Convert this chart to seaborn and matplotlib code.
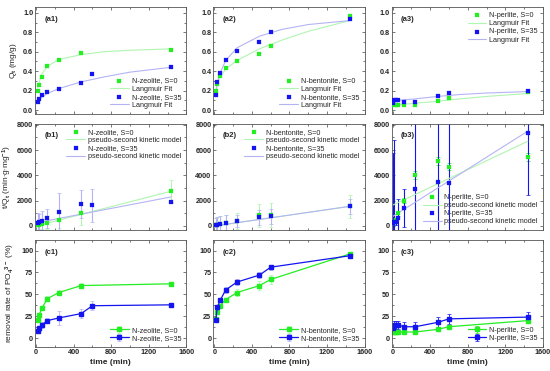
import numpy as np
import pandas as pd
import matplotlib
matplotlib.use("Agg")
import matplotlib.pyplot as plt
from matplotlib.ticker import MultipleLocator
import seaborn as sns

# time points (min)
t_zeo0 = [15, 30, 60, 120, 240, 480, 1440]
t_main = [15, 30, 60, 120, 240, 480, 600, 1440]
t_per = [5, 15, 30, 60, 120, 240, 480, 600, 1440]

# Qt (mg/g)
qa_zeo0 = [0.20, 0.26, 0.34, 0.45, 0.52, 0.59, 0.62]
qa_zeo35 = [0.08, 0.11, 0.15, 0.19, 0.22, 0.28, 0.37, 0.44]
qa_ben0 = [0.20, 0.27, 0.35, 0.43, 0.50, 0.58, 0.66, 0.97]
qa_ben35 = [0.15, 0.29, 0.38, 0.52, 0.61, 0.70, 0.80, 0.94]
qa_per0 = [0.06, 0.05, 0.05, 0.05, 0.05, 0.05, 0.09, 0.12, 0.19]
qa_per35 = [0.07, 0.10, 0.10, 0.10, 0.08, 0.08, 0.14, 0.18, 0.20]

# Langmuir fit curves
fit_t = [15, 30, 60, 120, 240, 480, 720, 1000, 1440]
fa_zeo0 = [0.21, 0.28, 0.37, 0.45, 0.52, 0.57, 0.60, 0.615, 0.63]
fa_zeo35 = [0.08, 0.10, 0.13, 0.17, 0.22, 0.29, 0.34, 0.39, 0.44]
fa_ben0 = [0.20, 0.27, 0.34, 0.42, 0.51, 0.63, 0.72, 0.81, 0.92]
fa_ben35 = [0.17, 0.27, 0.38, 0.51, 0.64, 0.76, 0.83, 0.88, 0.92]
fa_per0 = [0.05, 0.05, 0.055, 0.06, 0.07, 0.09, 0.115, 0.14, 0.17]
fa_per35 = [0.09, 0.095, 0.10, 0.105, 0.115, 0.14, 0.16, 0.175, 0.19]

# t/Qt
qb_zeo0 = [50, 100, 150, 250, 450, 1000, 2750]
eb_zeo0 = [300, 350, 400, 500, 600, 900, 900]
qb_zeo35 = [200, 300, 400, 600, 1100, 1750, 1650, 1900]
eb_zeo35 = [800, 650, 750, 750, 1500, 1100, 1300, 0]
qb_ben0 = [60, 80, 150, 250, 400, 850, 900, 1550]
eb_ben0 = [600, 650, 650, 600, 600, 900, 950, 900]
qb_ben35 = [50, 100, 180, 250, 400, 700, 750, 1550]
eb_ben35 = [600, 600, 600, 600, 500, 600, 600, 600]
qb_per0 = [200, 300, 500, 1000, 2000, 4050, 5150, 4700, 5450]
eb_per0 = [100, 100, 150, 200, 200, 300, 300, 300, 300]
qb_per35 = [250, 300, 350, 600, 1450, 2900, 3450, 3400, 7350]
eb_per35 = [5550, 6500, 300, 1500, 1500, 6000, 6000, 6000, 4900]

# pseudo-second kinetic model lines
fit_tb = [0, 1440]
fb_zeo0 = [0, 2750]
fb_zeo35 = [250, 2300]
fb_ben0 = [0, 1550]
fb_ben35 = [0, 1550]
fb_per0 = [1650, 6700]
fb_per35 = [750, 7500]

# removal rate (%)
qc_zeo0 = [21, 26, 34, 45, 52, 60, 62]
ec_zeo0 = [2, 2, 2, 3, 3, 3, 1]
qc_zeo35 = [8, 11, 15, 20, 23, 28, 37, 38]
ec_zeo35 = [2, 3, 3, 3, 8, 5, 5, 1]
qc_ben0 = [22, 30, 37, 44, 52, 60, 67, 96]
ec_ben0 = [2, 3, 2, 2, 4, 5, 5, 2]
qc_ben35 = [21, 35, 43, 55, 64, 72, 81, 94]
ec_ben35 = [2, 2, 2, 3, 3, 3, 3, 3]
qc_per0 = [7, 7, 7, 7, 7, 7, 10, 13, 20]
ec_per0 = [1, 1, 1, 1, 1, 1, 2, 2, 2]
qc_per35 = [11, 15, 15, 15, 13, 13, 18, 22, 24]
ec_per35 = [4, 5, 5, 5, 5, 5, 6, 6, 6]

GREEN = "#22ee22"
BLUE = "#1414f0"
LGREEN = "#b0f5b0"
LBLUE = "#b4b4f5"

sns.set_style("ticks")
plt.rcParams["font.family"] = ["Liberation Sans", "DejaVu Sans"]
plt.rcParams["mathtext.fontset"] = "custom"
plt.rcParams["mathtext.rm"] = "Liberation Sans:bold"
plt.rcParams["mathtext.bf"] = "Liberation Sans:bold"
plt.rcParams["mathtext.default"] = "bf"

fig, axes = plt.subplots(3, 3, figsize=(5.5, 3.71), dpi=100)
fig.subplots_adjust(left=0.064, right=0.987, top=0.981, bottom=0.065,
                    wspace=0.18, hspace=0.09)

names = ["zeolite", "bentonite", "perlite"]
ta = [(t_zeo0, t_main), (t_main, t_main), (t_per, t_per)]
qa = [(qa_zeo0, qa_zeo35), (qa_ben0, qa_ben35), (qa_per0, qa_per35)]
fa = [(fa_zeo0, fa_zeo35), (fa_ben0, fa_ben35), (fa_per0, fa_per35)]
qb = [(qb_zeo0, qb_zeo35), (qb_ben0, qb_ben35), (qb_per0, qb_per35)]
eb = [(eb_zeo0, eb_zeo35), (eb_ben0, eb_ben35), (eb_per0, eb_per35)]
fb = [(fb_zeo0, fb_zeo35), (fb_ben0, fb_ben35), (fb_per0, fb_per35)]
qc = [(qc_zeo0, qc_zeo35), (qc_ben0, qc_ben35), (qc_per0, qc_per35)]
ec = [(ec_zeo0, ec_zeo35), (ec_ben0, ec_ben35), (ec_per0, ec_per35)]

leg_kw = dict(fontsize=5.2, frameon=False, handlelength=2.6,
              labelspacing=0.15, borderaxespad=0.3, handletextpad=0.4)

for j, name in enumerate(names):
    t0, t35 = ta[j]
    lab0 = f"N-{name}, S=0"
    lab35 = f"N-{name}, S=35"

    # row a: Qt with Langmuir fit
    ax = axes[0, j]
    sns.scatterplot(x=t0, y=qa[j][0], ax=ax, marker="s", s=5, color=GREEN,
                    edgecolor=GREEN, label=lab0, zorder=3)
    sns.lineplot(x=fit_t, y=fa[j][0], ax=ax, color=LGREEN, lw=0.8,
                 label="Langmuir Fit")
    sns.scatterplot(x=t35, y=qa[j][1], ax=ax, marker="s", s=5, color=BLUE,
                    edgecolor=BLUE, label=lab35, zorder=3)
    sns.lineplot(x=fit_t, y=fa[j][1], ax=ax, color=LBLUE, lw=0.8,
                 label="Langmuir Fit")
    ax.set_ylim(-0.04, 1.06)
    ax.yaxis.set_major_locator(MultipleLocator(0.2))
    ax.yaxis.set_minor_locator(MultipleLocator(0.1))
    ax.legend(loc="upper right" if j == 2 else "lower right", **leg_kw)

    # row b: t/Qt with pseudo-second kinetic model
    ax = axes[1, j]
    ecol0 = GREEN if j == 2 else LGREEN
    ecol35 = BLUE if j == 2 else LBLUE
    ax.errorbar(t0, qb[j][0], yerr=eb[j][0], fmt="none", ecolor=ecol0,
                elinewidth=0.7, capsize=1.2, capthick=0.5, zorder=2)
    ax.errorbar(t35, qb[j][1], yerr=eb[j][1], fmt="none", ecolor=ecol35,
                elinewidth=0.8, capsize=1.2, capthick=0.5, zorder=2)
    sns.scatterplot(x=t0, y=qb[j][0], ax=ax, marker="s", s=5, color=GREEN,
                    edgecolor=GREEN, label=lab0, zorder=4)
    sns.lineplot(x=fit_tb, y=fb[j][0], ax=ax, color=LGREEN, lw=0.8,
                 label="pseudo-second kinetic model")
    sns.scatterplot(x=t35, y=qb[j][1], ax=ax, marker="s", s=5, color=BLUE,
                    edgecolor=BLUE, label=lab35, zorder=4)
    sns.lineplot(x=fit_tb, y=fb[j][1], ax=ax, color=LBLUE, lw=0.8,
                 label="pseudo-second kinetic model")
    ax.set_ylim(-350, 8100)
    ax.yaxis.set_major_locator(MultipleLocator(2000))
    ax.yaxis.set_minor_locator(MultipleLocator(1000))
    ax.legend(loc="lower right" if j == 2 else "upper right", **leg_kw)

    # row c: removal rate
    ax = axes[2, j]
    ax.errorbar(t0, qc[j][0], yerr=ec[j][0], color=GREEN, ecolor=LGREEN if j < 2 else GREEN,
                lw=0.9, elinewidth=0.6, capsize=1.2, capthick=0.5,
                marker="s", ms=2.2, label=lab0)
    ax.errorbar(t35, qc[j][1], yerr=ec[j][1], color=BLUE, ecolor=LBLUE if j < 2 else BLUE,
                lw=0.9, elinewidth=0.6, capsize=1.2, capthick=0.5,
                marker="s", ms=2.2, label=lab35)
    ax.set_ylim(-10, 112)
    ax.yaxis.set_major_locator(MultipleLocator(25))
    ax.yaxis.set_minor_locator(MultipleLocator(12.5))
    ax.legend(loc="lower right", **leg_kw)
    ax.set_xlabel("time (min)", fontsize=6, fontweight="bold", labelpad=2)

panel = [["(a1)", "(a2)", "(a3)"], ["(b1)", "(b2)", "(b3)"], ["(c1)", "(c2)", "(c3)"]]
for i in range(3):
    for j in range(3):
        ax = axes[i, j]
        ax.set_xlim(-10, 1600)
        ax.xaxis.set_major_locator(MultipleLocator(400))
        ax.xaxis.set_minor_locator(MultipleLocator(200))
        ax.tick_params(which="both", direction="in", top=True, right=True,
                       width=0.5, color="#444444", labelsize=5.2, pad=1.5)
        ax.tick_params(which="major", length=2.2)
        ax.tick_params(which="minor", length=1.2)
        for lab in ax.get_xticklabels() + ax.get_yticklabels():
            lab.set_fontweight("bold")
        for sp in ax.spines.values():
            sp.set_linewidth(0.6)
            sp.set_color("#555555")
        if i < 2:
            ax.set_xticklabels([])
            ax.set_xlabel("")
        if j > 0:
            ax.set_ylabel("")
        ax.text(0.06, 0.92, panel[i][j], transform=ax.transAxes,
                fontsize=5.5, fontweight="bold", va="top")

axes[0, 0].set_ylabel("Q$_t$ (mg/g)", fontsize=6, labelpad=3)
axes[1, 0].set_ylabel("t/Q$_t$ (min$\\cdot$g$\\cdot$mg$^{-1}$)", fontsize=6, labelpad=2)
axes[2, 0].set_ylabel("removal rate of PO$_4$$^{3-}$ (%)", fontsize=6, labelpad=3)

fig.savefig("out.png", dpi=100)
